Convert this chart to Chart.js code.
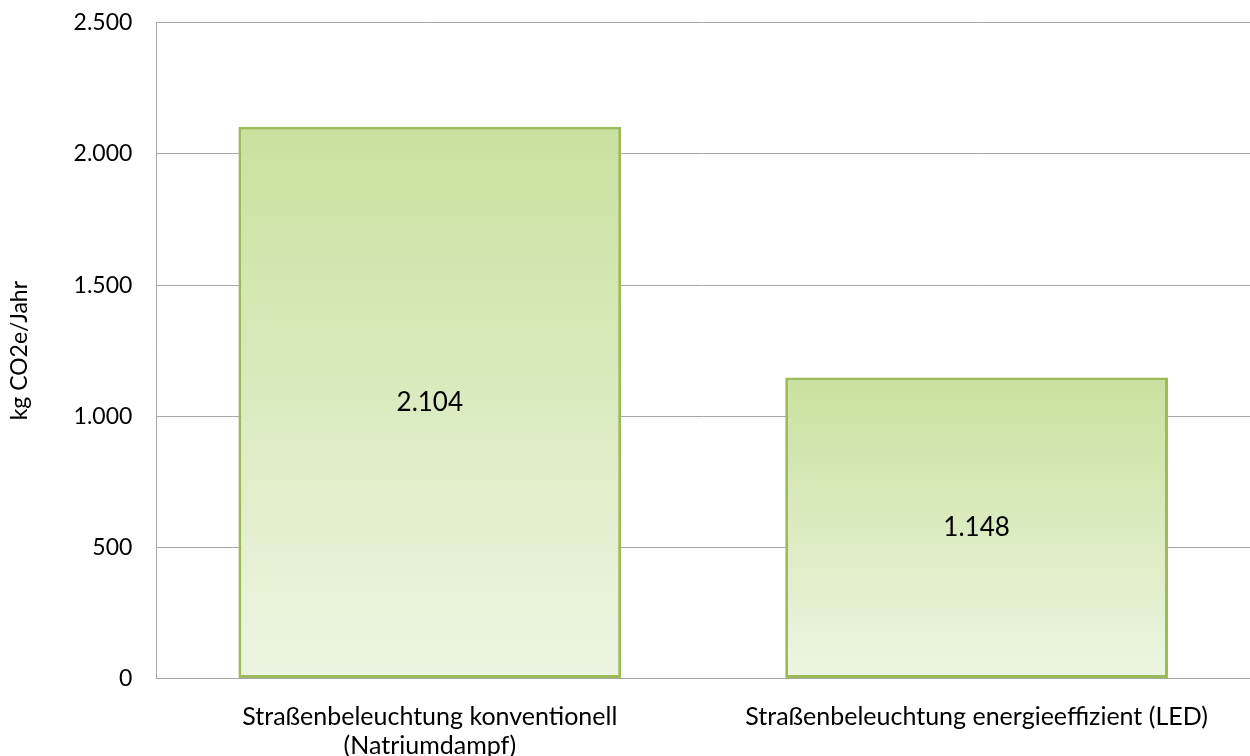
<!DOCTYPE html>
<html>
<head>
<meta charset="utf-8">
<script src="https://cdn.jsdelivr.net/npm/chart.js@4"></script>
<style>
  html, body { margin: 0; padding: 0; background: #fff; }
  #wrap { width: 1250px; height: 756px; overflow: hidden; }
  #chart { display: block; margin-top: -15px; }
</style>
</head>
<body>
<div id="wrap"><canvas id="chart" width="1250" height="777"></canvas></div>
<script>
// Daten
const kategorien = [
  ["Straßenbeleuchtung konventionell", "(Natriumdampf)"],
  "Straßenbeleuchtung energieeffizient (LED)"
];
const werte = [2104, 1148];
const yTicks = [0, 500, 1000, 1500, 2000, 2500];

const fmt = v => v.toLocaleString("de-DE");

// Verlauf pro Balken (oben dunkler, unten heller)
function balkenFarbe(ctx) {
  const chart = ctx.chart;
  const y = chart.scales.y;
  if (!chart.chartArea || !y || ctx.raw == null) return "#d8eabc";
  const top = y.getPixelForValue(ctx.raw);
  const bottom = y.getPixelForValue(0);
  const g = chart.ctx.createLinearGradient(0, top, 0, bottom);
  g.addColorStop(0, "#c8e19e");
  g.addColorStop(1, "#edf5e2");
  return g;
}

// Wert in der Mitte des Balkens
const wertLabels = {
  id: "wertLabels",
  afterDatasetsDraw(chart) {
    const c = chart.ctx;
    const meta = chart.getDatasetMeta(0);
    c.save();
    c.font = "26px Lato";
    c.fillStyle = "#000";
    c.textAlign = "center";
    c.textBaseline = "middle";
    meta.data.forEach((bar, i) => {
      c.fillText(fmt(werte[i]), bar.x, (bar.y + bar.base) / 2);
    });
    c.restore();
  }
};

new Chart(document.getElementById("chart"), {
  type: "bar",
  data: {
    labels: kategorien,
    datasets: [{
      data: werte,
      backgroundColor: balkenFarbe,
      borderColor: "#9bbb59",
      borderWidth: 3,
      borderSkipped: false,
      categoryPercentage: 0.7,
      barPercentage: 1
    }]
  },
  options: {
    responsive: false,
    animation: false,
    layout: { padding: { top: 0, right: 0, left: 2, bottom: -22 } },
    plugins: {
      legend: { display: false },
      tooltip: { enabled: false }
    },
    scales: {
      x: {
        grid: { display: false, drawTicks: false },
        border: { color: "#a6a6a6", width: 1 },
        ticks: {
          color: "#000",
          font: { family: "Lato", size: 25, lineHeight: 1.15 },
          padding: 24,
          maxRotation: 0,
          autoSkip: false
        }
      },
      y: {
        min: 0,
        max: 2500,
        afterBuildTicks: axis => { axis.ticks = yTicks.map(v => ({ value: v })); },
        grid: { color: "#a6a6a6", lineWidth: 1, drawTicks: false },
        border: { color: "#a6a6a6", width: 1 },
        ticks: {
          color: "#000",
          font: { family: "Lato", size: 23 },
          padding: 24,
          callback: v => fmt(v)
        },
        title: {
          display: true,
          text: "kg CO2e/Jahr",
          color: "#000",
          font: { family: "Lato", size: 23 },
          padding: { bottom: 16 }
        }
      }
    }
  },
  plugins: [wertLabels]
});
</script>
</body>
</html>
